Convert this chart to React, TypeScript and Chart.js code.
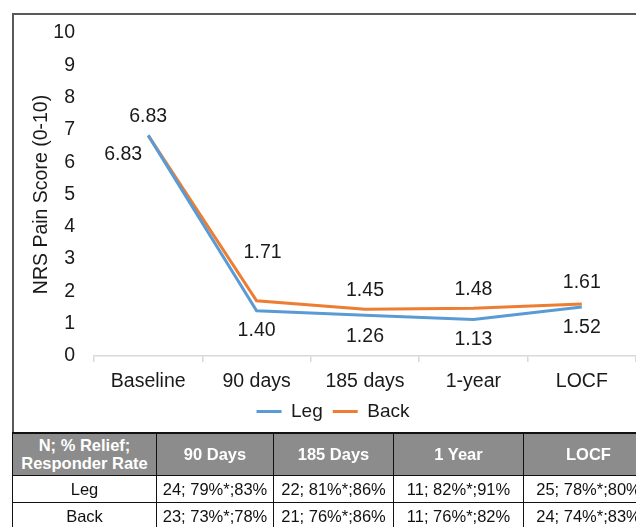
import React, { useEffect, useRef } from "react";
import { Chart, registerables } from "chart.js";

Chart.register(...registerables);

const categories = ["Baseline", "90 days", "185 days", "1-year", "LOCF"];
const legValues = [6.83, 1.4, 1.26, 1.13, 1.52];
const backValues = [6.83, 1.71, 1.45, 1.48, 1.61];
const seriesNames = ["Leg", "Back"];
const yMin = 0;
const yMax = 10;
const yStep = 1;

const tableHeader = ["N; % Relief;\nResponder Rate", "90 Days", "185 Days", "1 Year", "LOCF"];
const legRow = ["Leg", "24; 79%*;83%", "22; 81%*;86%", "11; 82%*;91%", "25; 78%*;80%"];
const backRow = ["Back", "23; 73%*;78%", "21; 76%*;86%", "11; 76%*;82%", "24; 74%*;83%"];

const FONT = "'Liberation Sans', Arial, Helvetica, sans-serif";
const BLUE = "#5B9BD5";
const ORANGE = "#ED7D31";
const TEXT = "#1a1a1a";

// label placement (pixel offsets from each point), one list per series
const labelOffsets = [
  [[-25, 19], [0, 20], [0, 21], [0, 20], [0, 21]],
  [[0, -19], [6, -48], [0, -19], [0, -19], [0, -21]],
];

const valueLabels = {
  id: "valueLabels",
  afterDatasetsDraw(chart: any) {
    const ctx = chart.ctx;
    ctx.save();
    ctx.font = `19.5px ${FONT}`;
    ctx.fillStyle = TEXT;
    ctx.textAlign = "center";
    ctx.textBaseline = "middle";
    chart.data.datasets.forEach((ds: any, di: number) => {
      const meta = chart.getDatasetMeta(di);
      meta.data.forEach((pt: any, i: number) => {
        const off = labelOffsets[di][i];
        ctx.fillText(Number(ds.data[i]).toFixed(2), pt.x + off[0], pt.y + off[1]);
      });
    });
    ctx.restore();
  },
};

function LineChart() {
  const ref = useRef<HTMLCanvasElement>(null);
  useEffect(() => {
    if (!ref.current) return;
    const chart = new Chart(ref.current, {
      type: "line",
      data: {
        labels: categories,
        datasets: [
          {
            label: seriesNames[0],
            data: legValues,
            borderColor: BLUE,
            backgroundColor: BLUE,
            borderWidth: 3,
            pointRadius: 0,
            pointStyle: "line",
            tension: 0,
          },
          {
            label: seriesNames[1],
            data: backValues,
            borderColor: ORANGE,
            backgroundColor: ORANGE,
            borderWidth: 3,
            pointRadius: 0,
            pointStyle: "line",
            tension: 0,
          },
        ],
      },
      options: {
        responsive: false,
        animation: false,
        devicePixelRatio: 1,
        layout: { padding: { left: 16, top: 18, right: 0, bottom: 2 } },
        plugins: {
          tooltip: { enabled: false },
          legend: {
            position: "bottom",
            labels: {
              usePointStyle: true,
              pointStyleWidth: 25,
              boxHeight: 19,
              color: TEXT,
              padding: 10,
              font: { family: FONT, size: 19 },
            },
          },
        },
        scales: {
          x: {
            offset: true,
            grid: {
              offset: true,
              drawOnChartArea: false,
              drawTicks: true,
              tickLength: 6,
              color: "#d9d9d9",
              lineWidth: 1.5,
            },
            border: { display: true, color: "#d9d9d9", width: 1.5 },
            ticks: {
              color: TEXT,
              padding: 8,
              font: { family: FONT, size: 19.5 },
              maxRotation: 0,
            },
            afterFit: (s: any) => {
              s.height = 36;
            },
          },
          y: {
            min: yMin,
            max: yMax,
            grid: { display: false, drawTicks: false },
            border: { display: false },
            ticks: {
              stepSize: yStep,
              color: TEXT,
              padding: 19,
              font: { family: FONT, size: 19.5 },
            },
            title: {
              display: true,
              text: "NRS Pain Score (0-10)",
              color: TEXT,
              padding: 0,
              font: { family: FONT, size: 19.5 },
            },
            afterFit: (s: any) => {
              s.width = 64;
              s.paddingTop = 0;
              s.paddingBottom = 0;
            },
          },
        },
      },
      plugins: [valueLabels],
    });
    return () => chart.destroy();
  }, []);
  return (
    <canvas
      ref={ref}
      width={622}
      height={418}
      style={{ position: "absolute", left: 14, top: 15, width: 622, height: 418 }}
    />
  );
}

const colWidths = [144, 117, 120, 130, 130];

export default function App() {
  const cellBase: React.CSSProperties = {
    border: "1.5px solid #111",
    textAlign: "center",
    padding: 0,
    whiteSpace: "nowrap",
    overflow: "hidden",
  };
  return (
    <div
      style={{
        position: "fixed",
        left: 0,
        top: 0,
        width: 636,
        height: 527,
        overflow: "hidden",
        background: "#fff",
        fontFamily: FONT,
      }}
    >
      <div
        style={{
          position: "absolute",
          left: 12,
          top: 13,
          width: 700,
          height: 440,
          borderLeft: "2px solid #595959",
          borderTop: "2px solid #595959",
          boxSizing: "border-box",
        }}
      />
      <LineChart />
      <table
        style={{
          position: "absolute",
          left: 12,
          top: 432,
          borderCollapse: "collapse",
          tableLayout: "fixed",
          width: colWidths.reduce((a, b) => a + b, 0),
          fontFamily: FONT,
        }}
      >
        <colgroup>
          {colWidths.map((w, i) => (
            <col key={i} style={{ width: w }} />
          ))}
        </colgroup>
        <tbody>
          <tr style={{ height: 42 }}>
            {tableHeader.map((h, i) => (
              <th
                key={i}
                style={{
                  ...cellBase,
                  borderTop: "2.5px solid #111",
                  background: "#8c8c8c",
                  color: "#fff",
                  fontWeight: "bold",
                  fontSize: 16.5,
                  lineHeight: "18px",
                  whiteSpace: "pre",
                }}
              >
                {h}
              </th>
            ))}
          </tr>
          {[legRow, backRow].map((row, ri) => (
            <tr key={ri} style={{ height: 27 }}>
              {row.map((c, i) => (
                <td
                  key={i}
                  style={{ ...cellBase, fontSize: 16.5, color: "#111", lineHeight: "18px" }}
                >
                  {c}
                </td>
              ))}
            </tr>
          ))}
        </tbody>
      </table>
    </div>
  );
}
